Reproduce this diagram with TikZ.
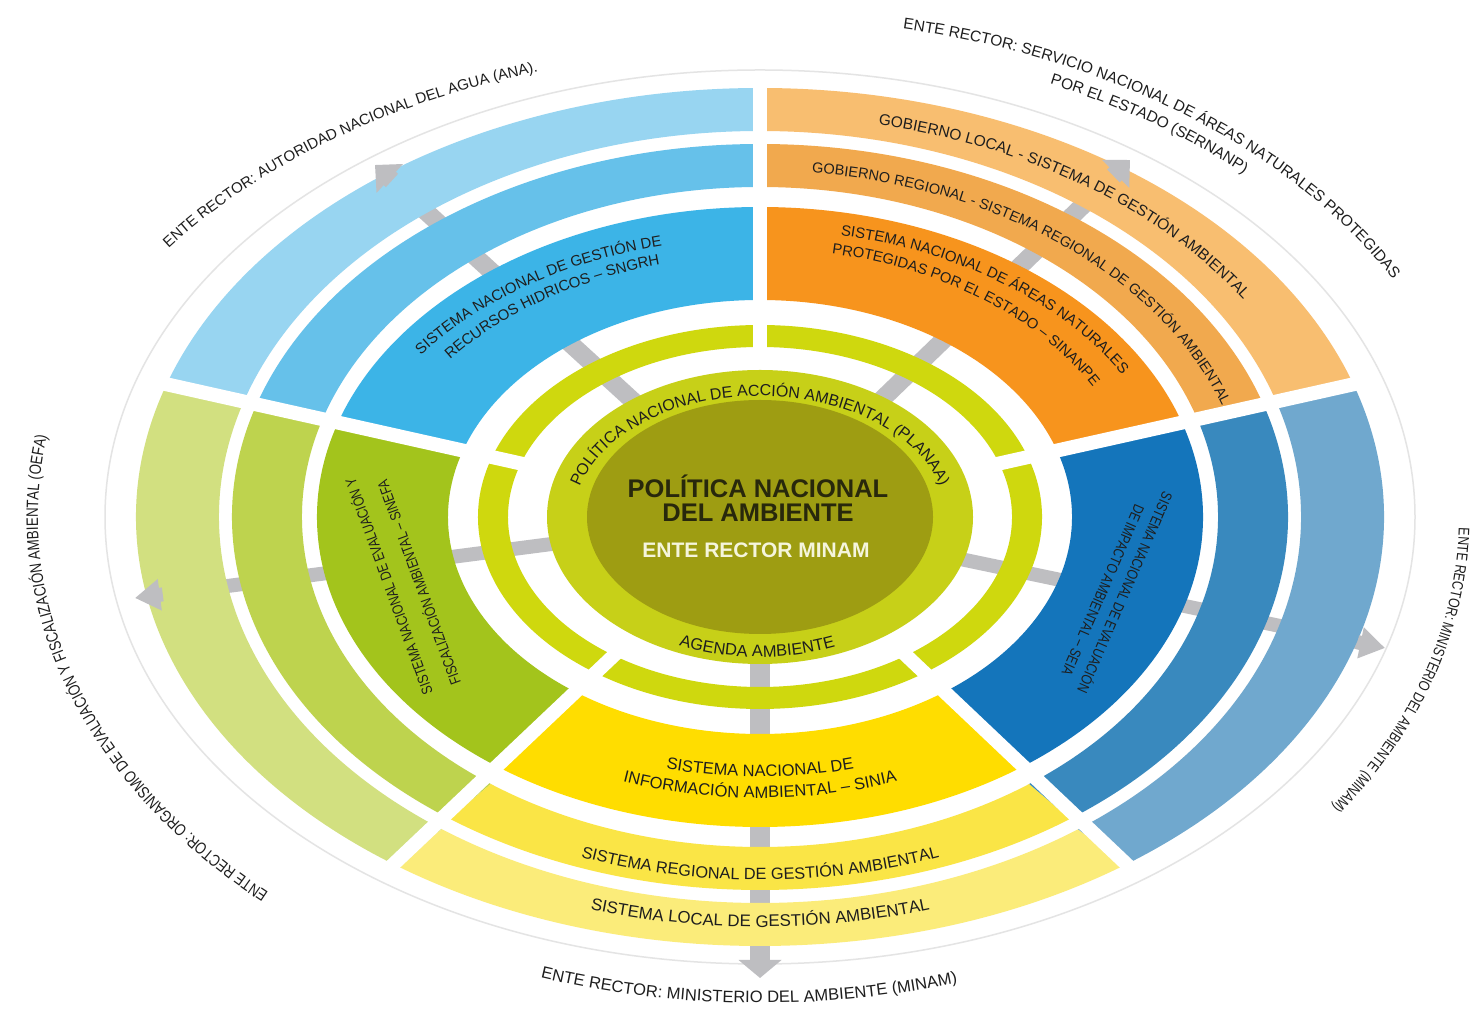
\documentclass[tikz,border=0pt]{standalone}
\usepackage{fontspec}
\setmainfont{Liberation Sans}
\newfontfamily\condensed[FakeStretch=0.8]{Liberation Sans}
\usetikzlibrary{decorations.text,arrows.meta,calc}
\definecolor{discol}{RGB}{158,157,18}
\definecolor{ringone}{RGB}{199,208,24}
\definecolor{ringtwo}{RGB}{207,216,14}
\definecolor{blA}{RGB}{60,180,231}
\definecolor{blB}{RGB}{102,193,234}
\definecolor{blC}{RGB}{152,213,241}
\definecolor{orA}{RGB}{247,148,29}
\definecolor{orB}{RGB}{241,169,78}
\definecolor{orC}{RGB}{248,190,112}
\definecolor{dbA}{RGB}{20,117,187}
\definecolor{dbB}{RGB}{57,137,190}
\definecolor{dbC}{RGB}{112,168,206}
\definecolor{yeA}{RGB}{255,221,0}
\definecolor{yeB}{RGB}{250,229,70}
\definecolor{yeC}{RGB}{251,236,122}
\definecolor{grA}{RGB}{163,196,28}
\definecolor{grB}{RGB}{190,211,78}
\definecolor{grC}{RGB}{210,224,128}
\definecolor{arrowgrey}{RGB}{190,190,193}
\definecolor{lbl}{RGB}{30,30,30}
\definecolor{titlecol}{RGB}{40,40,12}
\definecolor{cream}{RGB}{245,245,220}
\definecolor{faintcol}{RGB}{228,228,228}
\newcommand\ringsector[7]{\fill[#1] ($(C)+(#2:#6 and #7)$) arc[start angle=#2,end angle=#3,x radius=#6,y radius=#7] -- ($(C)+(#3:#4 and #5)$) arc[start angle=#3,end angle=#2,x radius=#4,y radius=#5] -- cycle;}
\newcommand\ringtext[6]{\path[decorate,decoration={text along path,text align=center,text color=lbl,text={|\fontsize{#5}{#5}\selectfont|#6}}] ($(C)+(#3:#1 and #2)$) arc[start angle=#3,end angle=#4,x radius=#1,y radius=#2];}
\newcommand\sidetext[6]{\path[decorate,decoration={text along path,text align=center,text color=lbl,text={|\condensed\fontsize{#5}{#5}\selectfont|#6}}] ($(C)+(#3:#1 and #2)$) arc[start angle=#3,end angle=#4,x radius=#1,y radius=#2];}
\tikzset{
  shaft/.style={draw=arrowgrey},
  gapline/.style={draw=white,line width=14pt},
  faintline/.style={draw=faintcol,line width=1.5pt},
  sidelabel/.style={text=lbl,inner sep=0pt,font=\condensed\fontsize{15}{15}\selectfont}
}
\begin{document}
\begin{tikzpicture}[x=1pt,y=1pt]
\useasboundingbox[fill=white] (0,0) rectangle (1480,1011);
\coordinate (C) at (760,494);
\coordinate (tipUL) at (375,846);
\coordinate (tipUR) at (1130,851);
\coordinate (tipL) at (135,413);
\coordinate (tipR) at (1385,363);
\coordinate (tipB) at (760,33);
\coordinate (baseUL) at ($(tipUL)!20pt!(C)$);
\coordinate (neckUL) at ($(tipUL)!23pt!(C)$);
\coordinate (baseUR) at ($(tipUR)!20pt!(C)$);
\coordinate (neckUR) at ($(tipUR)!23pt!(C)$);
\coordinate (baseL) at ($(tipL)!25pt!(C)$);
\coordinate (neckL) at ($(tipL)!28pt!(C)$);
\coordinate (baseR) at ($(tipR)!25pt!(C)$);
\coordinate (neckR) at ($(tipR)!28pt!(C)$);
\coordinate (baseB) at ($(tipB)!18pt!(C)$);
\coordinate (neckB) at ($(tipB)!21pt!(C)$);
% faint outer ellipse
\draw[faintline] (C) ellipse[x radius=655,y radius=447];
% arrow shafts (behind)
\draw[shaft,line width=18pt] (C) -- (baseUL);
\draw[shaft,line width=18pt] (C) -- (baseUR);
\draw[shaft,line width=14pt] (C) -- (baseL);
\draw[shaft,line width=14pt] (C) -- (baseR);
\draw[shaft,line width=20pt] (C) -- (baseB);
% ring sectors
\foreach \a/\b/\cA/\cB/\cC in {18/90/orA/orB/orC,90/162/blA/blB/blC,162/234/grA/grB/grC,234/306/yeA/yeB/yeC,306/378/dbA/dbB/dbC}{
  \ringsector{ringtwo}{\a}{\b}{252}{170}{282}{192}
  \ringsector{\cA}{\a}{\b}{312}{217}{443}{310}
  \ringsector{\cB}{\a}{\b}{458}{330}{528}{373}
  \ringsector{\cC}{\a}{\b}{541}{386}{624}{429}
}
% gaps between sectors
\foreach \a in {18,90,162,234,306}{\draw[gapline] (C) -- ($(C)+(\a:632 and 435)$);}
% inner ring and disc
\fill[ringone] (C) ellipse[x radius=213,y radius=147];
\fill[discol] (C) ellipse[x radius=173,y radius=117];
\node[inner sep=0pt,minimum size=0pt] (core) at (C) {};
% arrow heads (on top)
\draw[shaft,line width=18pt,-{Triangle[length=20pt,width=38pt]}] (neckUL) -- (tipUL);
\draw[shaft,line width=18pt,-{Triangle[length=20pt,width=38pt]}] (neckUR) -- (tipUR);
\draw[shaft,line width=14pt,-{Triangle[length=25pt,width=30pt]}] (neckL) -- (tipL);
\draw[shaft,line width=14pt,-{Triangle[length=25pt,width=30pt]}] (neckR) -- (tipR);
\draw[shaft,line width=20pt,-{Triangle[length=18pt,width=42pt]}] (neckB) -- (tipB);
% centre texts
\node[font=\bfseries\fontsize{25.5}{24}\selectfont,text=titlecol,align=center] (title) at (758,513) {POLÍTICA NACIONAL\\DEL AMBIENTE};
\node[font=\bfseries\fontsize{21}{21}\selectfont,text=cream] (rector) at (756,461) {ENTE RECTOR MINAM};
% inner ring texts
\ringtext{186}{121}{178}{2}{16}{POLÍTICA NACIONAL DE ACCIÓN AMBIENTAL (PLANAA)}
\ringtext{200}{140}{225}{313}{16.5}{AGENDA AMBIENTE}
% SNGRH
\ringtext{416}{279}{167}{87}{15}{SISTEMA NACIONAL DE GESTIÓN DE}
\ringtext{388}{261}{167}{87}{15}{RECURSOS HIDRICOS – SNGRH}
% SINANPE
\ringtext{417}{287}{92}{12}{15}{SISTEMA NACIONAL DE ÁREAS NATURALES}
\ringtext{381}{268}{92}{12}{14.7}{PROTEGIDAS POR EL ESTADO – SINANPE}
\ringtext{488}{346}{86}{16}{14.5}{GOBIERNO REGIONAL - SISTEMA REGIONAL DE GESTIÓN AMBIENTAL}
\ringtext{575}{401}{88}{20}{15.5}{GOBIERNO LOCAL - SISTEMA DE GESTIÓN AMBIENTAL}
% SINEFA
\node[sidelabel,rotate=110] (sinefaA) at (388,424) {SISTEMA NACIONAL DE EVALUACIÓN Y};
\node[sidelabel,rotate=110] (sinefaB) at (418,428) {FISCALIZACIÓN AMBIENTAL – SINEFA};
% SEIA
\node[sidelabel,rotate=-113.5] (seiaA) at (1126,418) {SISTEMA NACIONAL DE EVALUACIÓN};
\node[sidelabel,rotate=-113.5] (seiaB) at (1103,421) {DE IMPACTO AMBIENTAL – SEIA};
% SINIA and bottom rings
\ringtext{372}{260}{230}{310}{16.5}{SISTEMA NACIONAL DE}
\ringtext{402}{281}{230}{310}{16.5}{INFORMACIÓN AMBIENTAL – SINIA}
\ringtext{512}{363}{235}{305}{16.3}{SISTEMA REGIONAL DE GESTIÓN AMBIENTAL}
\ringtext{587}{410}{238}{302}{16.8}{SISTEMA LOCAL DE GESTIÓN AMBIENTAL}
% outer labels
\ringtext{722}{468}{150}{104}{15}{ENTE RECTOR: AUTORIDAD NACIONAL DEL AGUA (ANA).}
\ringtext{720}{498}{82}{24}{15.5}{ENTE RECTOR: SERVICIO NACIONAL DE ÁREAS NATURALES PROTEGIDAS}
\ringtext{698}{476}{75}{35}{15.5}{POR EL ESTADO (SERNANP)}
\sidetext{722}{513}{232}{165}{16.6}{ENTE RECTOR: ORGANISMO DE EVALUACIÓN Y FISCALIZACIÓN AMBIENTAL (OEFA)}
\sidetext{699}{504}{8}{-43}{15.4}{ENTE RECTOR: MINISTERIO DEL AMBIENTE (MINAM)}
\ringtext{690}{486}{240}{298}{16.5}{ENTE RECTOR: MINISTERIO DEL AMBIENTE (MINAM)}
\end{tikzpicture}
\end{document}
